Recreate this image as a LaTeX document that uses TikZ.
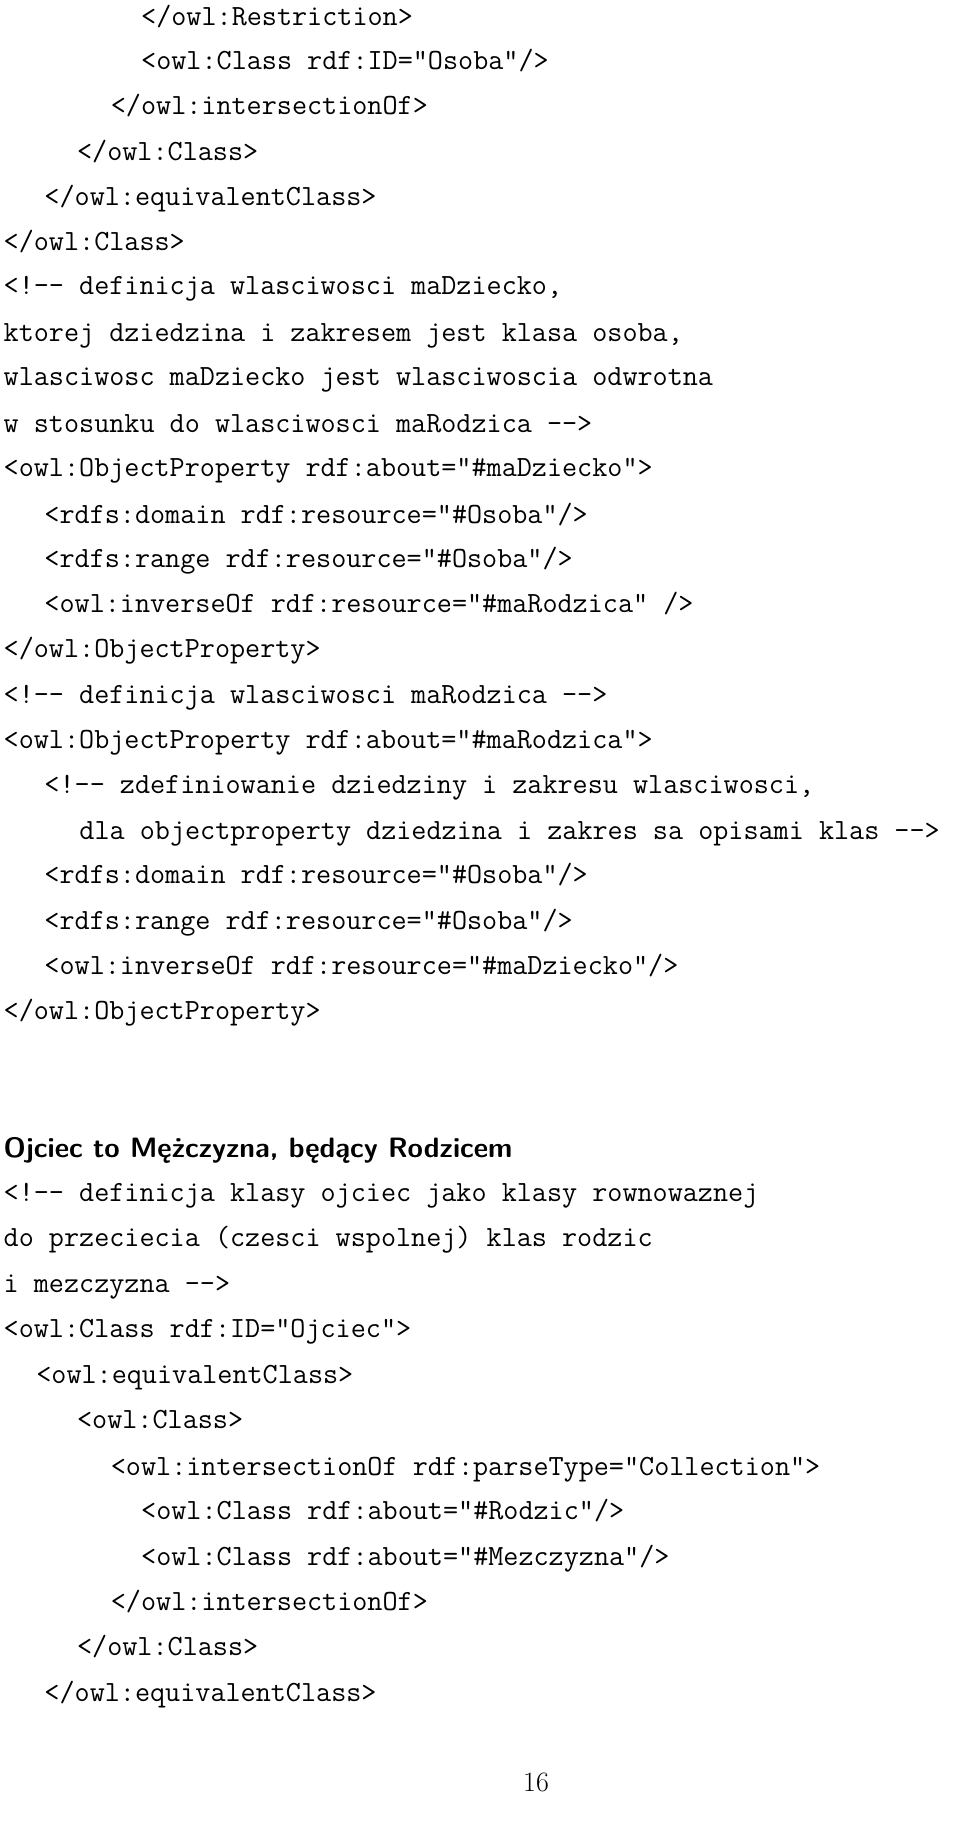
\documentclass[tikz,border=0pt]{standalone}
\usepackage{fontspec}
\usetikzlibrary{positioning}
\tikzset{codeline/.style={anchor=base west,inner sep=0pt,font=\fontsize{29.3}{35}\ttfamily}}
\tikzset{heading/.style={anchor=base west,inner sep=0pt,font=\fontsize{28}{34}\sffamily\bfseries}}
\tikzset{pageno/.style={anchor=base,inner sep=0pt,font=\fontsize{28}{34}\rmfamily}}
\begin{document}
\begin{tikzpicture}[x=1.165pt,y=-1.165pt]
    \useasboundingbox (0,0) rectangle (824,1573);
    % end of the class Osoba
    \node[codeline] (c1)  at (121,22)  {</owl:Restriction>};
    \node[codeline] (c2)  at (121,60)  {<owl:Class rdf:ID="Osoba"/>};
    \node[codeline] (c3)  at (95,98)   {</owl:intersectionOf>};
    \node[codeline] (c4)  at (66,138)  {</owl:Class>};
    \node[codeline] (c5)  at (38,176)  {</owl:equivalentClass>};
    \node[codeline] (c6)  at (3,215)   {</owl:Class>};
    % maDziecko
    \node[codeline] (c7)  at (3,253)   {<!-{}- definicja wlasciwosci maDziecko,};
    \node[codeline] (c8)  at (3,293)   {ktorej dziedzina i zakresem jest klasa osoba,};
    \node[codeline] (c9)  at (3,331)   {wlasciwosc maDziecko jest wlasciwoscia odwrotna};
    \node[codeline] (c10) at (3,371)   {w stosunku do wlasciwosci maRodzica -{}->};
    \node[codeline] (c11) at (3,409)   {<owl:ObjectProperty rdf:about="\#maDziecko">};
    \node[codeline] (c12) at (38,449)  {<rdfs:domain rdf:resource="\#Osoba"/>};
    \node[codeline] (c13) at (38,487)  {<rdfs:range rdf:resource="\#Osoba"/>};
    \node[codeline] (c14) at (38,526)  {<owl:inverseOf rdf:resource="\#maRodzica" />};
    \node[codeline] (c15) at (3,564)   {</owl:ObjectProperty>};
    % maRodzica
    \node[codeline] (c16) at (3,604)   {<!-{}- definicja wlasciwosci maRodzica -{}->};
    \node[codeline] (c17) at (3,642)   {<owl:ObjectProperty rdf:about="\#maRodzica">};
    \node[codeline] (c18) at (38,681)  {<!-{}- zdefiniowanie dziedziny i zakresu wlasciwosci,};
    \node[codeline] (c19) at (68,720)  {dla objectproperty dziedzina i zakres sa opisami klas -{}->};
    \node[codeline] (c20) at (38,758)  {<rdfs:domain rdf:resource="\#Osoba"/>};
    \node[codeline] (c21) at (38,798)  {<rdfs:range rdf:resource="\#Osoba"/>};
    \node[codeline] (c22) at (38,836)  {<owl:inverseOf rdf:resource="\#maDziecko"/>};
    \node[codeline] (c23) at (3,875)   {</owl:ObjectProperty>};
    % Ojciec
    \node[heading]  (h1)  at (3,993)   {Ojciec to Mężczyzna, będący Rodzicem};
    \node[codeline] (c24) at (3,1031)  {<!-{}- definicja klasy ojciec jako klasy rownowaznej};
    \node[codeline] (c25) at (3,1070)  {do przeciecia (czesci wspolnej) klas rodzic};
    \node[codeline] (c26) at (3,1109)  {i mezczyzna -{}->};
    \node[codeline] (c27) at (3,1148)  {<owl:Class rdf:ID="Ojciec">};
    \node[codeline] (c28) at (31,1187) {<owl:equivalentClass>};
    \node[codeline] (c29) at (66,1226) {<owl:Class>};
    \node[codeline] (c30) at (95,1266) {<owl:intersectionOf rdf:parseType="Collection">};
    \node[codeline] (c31) at (121,1304) {<owl:Class rdf:about="\#Rodzic"/>};
    \node[codeline] (c32) at (121,1343) {<owl:Class rdf:about="\#Mezczyzna"/>};
    \node[codeline] (c33) at (95,1382) {</owl:intersectionOf>};
    \node[codeline] (c34) at (66,1421) {</owl:Class>};
    \node[codeline] (c35) at (38,1460) {</owl:equivalentClass>};
    \node[pageno]   (p)   at (460,1537) {16};
\end{tikzpicture}
\end{document}
